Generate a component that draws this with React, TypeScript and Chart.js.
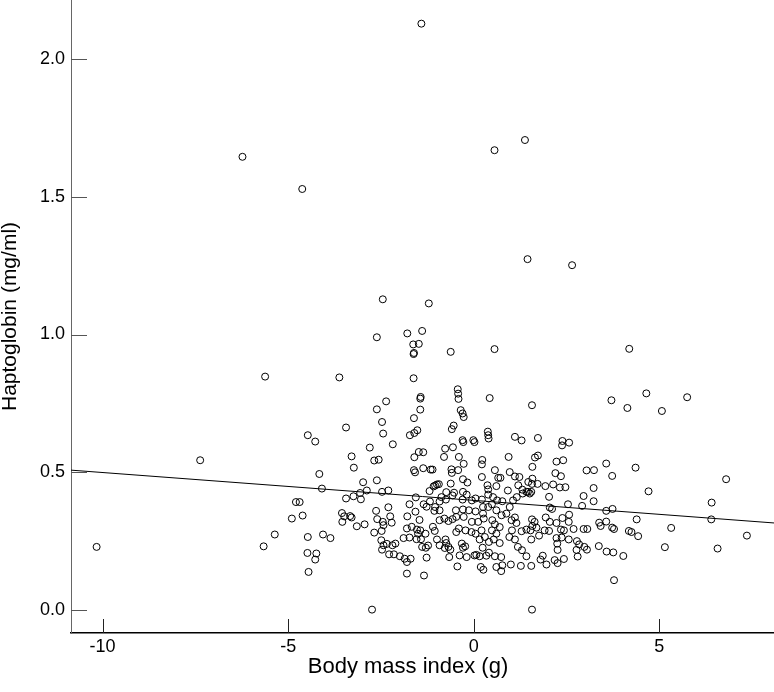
import React, { useEffect, useRef } from "react";
import { Chart, registerables } from "chart.js";

Chart.register(...registerables);

// Body mass index (g) values (x)
const bmiValues: number[] = [
  -1.41, -6.23, -4.62, -2.45, 1.38, 0.56, 1.45, 2.65, -1.21,
  -5.62, -4.47, -7.37, -4.79, -4.61, -4.90, -5.36, -5.66, -4.47, -4.48, -4.45, -10.16,
  -2.61, -1.79, -1.39, -1.63, -1.48, -1.61, -1.62, -0.62, 0.56, -3.62, -1.62, -0.43, -0.42, -0.41,
  -1.43, -1.44, 0.43, -2.36, -2.61, -1.44, -0.35, -0.30, -0.27, -1.61, -2.47, -3.44, -4.27, -0.54,
  -0.59, -1.72, -1.60, -1.52, -2.44, -2.18, -2.80, -0.30, -0.28, -0.01, 0.02, 0.38, 0.39, 0.40,
  1.11, 1.29, -0.77, -0.56, -3.29, -3.23, -4.16, -4.09, -1.48, -1.36, -1.60, -2.68, -2.56, -0.80,
  -0.40, -0.27, 0.23, 0.22, 0.94, -1.61, -1.58, -1.36, -1.16, -1.11, -0.60, -0.59, -0.42, -2.61,
  -2.98, 0.57, 0.97, 0.22, 0.66, 0.72, 1.23, -0.29, -0.17, -0.62, -1.04, -0.94, -0.74, -0.53,
  0.37, 0.39, 0.61, 1.11, 1.47, 1.57, 1.20, 1.31, 1.42, 1.51, 0.92, -3.44, -3.24, -3.06, -3.04,
  -2.88, -2.47, -2.30, -1.56, -1.19, -1.08, -0.99, -0.87, -0.75, -0.57, -0.29, -0.19, -0.30, -0.05,
  0.05, 0.22, 0.39, 0.52, 0.63, 0.77, 1.06, 1.16, 1.32, 1.46, -4.69, -3.55, -3.49, -3.54, -3.33,
  -3.29, -3.15, -2.94, -2.63, -2.60, -2.45, -2.30, -2.25, -2.21, -2.68, -2.48, -2.43, -1.73, -1.35,
  -1.27, -1.18, -1.04, -0.92, -1.79, -1.57, -1.46, -1.80, -1.67, -1.53, -1.44, -1.89, -1.73, -1.54,
  -1.42, -1.39, -1.29, -1.23, -2.49, -2.43, -2.47, -2.34, -2.19, -2.11, -2.28, -2.15, -1.99, -1.86,
  -1.80, -1.70, -1.27, -1.80, -1.34, -2.74, -4.06, -3.86, -4.27, -4.24, -0.79, -0.68, -0.57, -1.10,
  -1.05, -0.92, -0.76, -0.74, -0.68, -0.63, -0.78, -0.92, -0.99, -0.44, -0.48, -0.47, -0.29, -0.27,
  -0.47, -0.40, -0.22, -0.32, -0.29, -0.23, -0.38, -0.19, 0.02, -0.13, -0.05, 0.05, 0.12, 0.25,
  0.27, -0.06, 0.05, 0.21, 0.16, 0.30, 0.24, 0.07, 0.16, 0.34, 0.41, 0.19, 0.26, 0.39, 0.49, 0.61,
  0.50, 0.57, 0.49, 0.61, 0.41, 0.54, 0.70, 0.57, 0.74, 0.77, 0.74, 0.61, 0.88, 1.02, 1.11, 1.15,
  1.03, 1.29, 1.42, 1.19, 1.30, 1.42, 1.00, 1.27, 0.96, 1.11, -0.92, -1.06, -1.50, -1.30, -0.66,
  0.75, 0.70, 0.25, 0.97,
  4.19, 4.65, 5.75, 3.71, 4.14, 5.07, 1.57, 1.73, 2.39, 2.38, 2.57, 1.65, 1.73, 1.58, 2.23, 2.41,
  3.57, 4.36, 2.20, 2.35, 3.04, 3.24, 3.73, 6.80, 1.58, 1.55, 1.93, 2.14, 2.32, 2.47, 1.72, 4.71,
  2.96, 3.23, 2.03, 3.23, 6.41, 2.54, 2.92, 2.05, 2.11, 3.57, 3.74, 2.57, 1.94, 2.39, 1.57, 1.64,
  6.40, 4.39, 2.05, 2.23, 2.56, 3.38, 3.57, 3.42, 1.58, 1.69, 1.53, 1.91, 2.03, 2.35, 2.43, 2.69,
  2.96, 3.06, 3.73, 3.78, 5.32, 4.18, 4.25, 4.43, 7.36, 1.76, 1.55, 2.23, 2.56, 2.37, 2.25, 2.78,
  2.84, 2.98, 3.05, 3.37, 2.26, 2.77, 3.58, 3.76, 5.15, 6.57, 4.03, 1.86, 1.80, 1.96, 1.55, 2.18,
  2.26, 2.43, 2.80, 3.78, 1.57,
];

// Haptoglobin (mg/ml) values (y)
const haptoglobinValues: number[] = [
  2.13, 1.646, 1.529, 1.128, 1.707, 1.67, 1.274, 1.252, 1.113,
  0.847, 0.634, 0.543, 0.391, 0.342, 0.331, 0.273, 0.23, 0.264, 0.206, 0.137, 0.228,
  0.99, 1.004, 1.013, 0.964, 0.966, 0.933, 0.929, 0.937, 0.947, 0.844, 0.841, 0.801, 0.785, 0.766,
  0.773, 0.767, 0.769, 0.757, 0.728, 0.727, 0.725, 0.713, 0.7, 0.696, 0.682, 0.662, 0.611, 0.669,
  0.656, 0.634, 0.642, 0.652, 0.64, 0.601, 0.589, 0.616, 0.609, 0.616, 0.609, 0.647, 0.634, 0.622,
  0.628, 0.615, 0.585, 0.59, 0.557, 0.516, 0.493, 0.44, 0.573, 0.572, 0.554, 0.542, 0.545, 0.555,
  0.555, 0.53, 0.544, 0.528, 0.555, 0.507, 0.499, 0.514, 0.509, 0.509, 0.51, 0.497, 0.507, 0.47,
  0.463, 0.507, 0.5, 0.482, 0.479, 0.479, 0.482, 0.474, 0.462, 0.458, 0.451, 0.456, 0.427, 0.425,
  0.452, 0.437, 0.449, 0.484, 0.464, 0.457, 0.452, 0.436, 0.428, 0.422, 0.433, 0.404, 0.412, 0.424, 0.401,
  0.433, 0.428, 0.433, 0.408, 0.431, 0.448, 0.455, 0.409, 0.4, 0.415, 0.428, 0.418, 0.4, 0.397,
  0.404, 0.4, 0.418, 0.409, 0.397, 0.394, 0.397, 0.409, 0.422, 0.428, 0.391, 0.351, 0.339, 0.319, 0.34,
  0.335, 0.303, 0.31, 0.359, 0.329, 0.319, 0.372, 0.339, 0.316, 0.28, 0.286, 0.307, 0.383, 0.383,
  0.374, 0.393, 0.373, 0.393, 0.339, 0.356, 0.326, 0.295, 0.301, 0.291, 0.288, 0.26, 0.262, 0.256,
  0.256, 0.228, 0.225, 0.233, 0.252, 0.234, 0.218, 0.239, 0.234, 0.24, 0.201, 0.201, 0.194, 0.185,
  0.173, 0.185, 0.189, 0.131, 0.124, 0.0, 0.273, 0.26, 0.182, 0.204, 0.331, 0.322, 0.329, 0.301,
  0.286, 0.325, 0.255, 0.242, 0.228, 0.218, 0.224, 0.234, 0.255, 0.157, 0.361, 0.337, 0.364, 0.337,
  0.282, 0.295, 0.288, 0.24, 0.225, 0.23, 0.197, 0.191, 0.197, 0.361, 0.319, 0.357, 0.319, 0.349,
  0.331, 0.282, 0.276, 0.288, 0.255, 0.264, 0.225, 0.199, 0.194, 0.196, 0.207, 0.155, 0.145, 0.373, 0.383, 0.361,
  0.325, 0.31, 0.288, 0.276, 0.246, 0.255, 0.242, 0.194, 0.191, 0.161, 0.14, 0.155, 0.349, 0.325, 0.335, 0.315,
  0.288, 0.285, 0.291, 0.228, 0.216, 0.194, 0.164, 0.159, 0.264, 0.255, 0.361, 0.359, 0.276, 0.276, 0.191,
  0.343, 0.3, 0.373, 0.373,
  0.948, 0.786, 0.772, 0.761, 0.733, 0.722, 0.743, 0.624, 0.613, 0.597, 0.607, 0.553, 0.56, 0.519, 0.538, 0.543,
  0.531, 0.516, 0.496, 0.485, 0.506, 0.507, 0.486, 0.474, 0.476, 0.428, 0.449, 0.455, 0.444, 0.445, 0.457, 0.43,
  0.413, 0.442, 0.41, 0.394, 0.389, 0.383, 0.377, 0.371, 0.366, 0.359, 0.366, 0.345, 0.335, 0.333, 0.328, 0.319,
  0.328, 0.328, 0.319, 0.315, 0.319, 0.316, 0.32, 0.304, 0.304, 0.298, 0.288, 0.288, 0.286, 0.291, 0.288, 0.293,
  0.293, 0.293, 0.298, 0.293, 0.297, 0.286, 0.282, 0.267, 0.269, 0.269, 0.255, 0.26, 0.255, 0.262, 0.24, 0.249,
  0.237, 0.228, 0.218, 0.231, 0.217, 0.217, 0.211, 0.208, 0.227, 0.222, 0.195, 0.196, 0.182, 0.164, 0.159, 0.18,
  0.169, 0.184, 0.193, 0.107, 0.0,
];

// Linear fit line endpoints
const fitX: number[] = [-10.85, 8.09];
const fitY: number[] = [0.507, 0.315];

const xTicks: number[] = [-10, -5, 0, 5];
const yTicks: number[] = [0.0, 0.5, 1.0, 1.5, 2.0];

const xTitle = "Body mass index (g)";
const yTitle = "Haptoglobin (mg/ml)";

const FONT = "'Liberation Sans', Arial, sans-serif";

const tickMarksPlugin = {
  id: "tickMarks",
  afterDraw(chart: any) {
    const { ctx, chartArea, scales } = chart;
    ctx.save();
    ctx.lineWidth = 1;
    ctx.strokeStyle = "#555";
    ctx.beginPath();
    for (const v of yTicks) {
      const py = Math.round(scales.y.getPixelForValue(v)) + 0.5;
      ctx.moveTo(chartArea.left, py);
      ctx.lineTo(chartArea.left + 16, py);
    }
    ctx.stroke();
    ctx.strokeStyle = "#222";
    ctx.beginPath();
    for (const v of xTicks) {
      const px = Math.round(scales.x.getPixelForValue(v)) + 0.5;
      ctx.moveTo(px, chartArea.bottom);
      ctx.lineTo(px, chartArea.bottom - 14);
    }
    ctx.stroke();
    // x-axis title (offset to match the original figure's centring)
    ctx.fillStyle = "#000";
    ctx.font = `22px ${FONT}`;
    ctx.textAlign = "center";
    ctx.textBaseline = "middle";
    ctx.fillText(xTitle, 408, 667);
    ctx.restore();
  },
};

export default function App() {
  const canvasRef = useRef<HTMLCanvasElement | null>(null);

  useEffect(() => {
    document.body.style.margin = "0";
    const canvas = canvasRef.current;
    if (!canvas) return;
    const points = bmiValues.map((x, i) => ({ x, y: haptoglobinValues[i] }));
    const fit = fitX.map((x, i) => ({ x, y: fitY[i] }));
    const chart = new Chart(canvas, {
      type: "scatter",
      data: {
        datasets: [
          {
            type: "line",
            data: fit,
            borderColor: "#000",
            borderWidth: 1,
            pointRadius: 0,
            fill: false,
          } as any,
          {
            data: points,
            pointStyle: "circle",
            pointRadius: 3.5,
            pointBorderWidth: 1,
            borderColor: "#000",
            backgroundColor: "rgba(0,0,0,0)",
            pointBackgroundColor: "rgba(0,0,0,0)",
            pointBorderColor: "#000",
          } as any,
        ],
      },
      options: {
        animation: false,
        responsive: false,
        maintainAspectRatio: false,
        layout: { padding: 0, autoPadding: false },
        plugins: {
          legend: { display: false },
          tooltip: { enabled: false },
        },
        scales: {
          x: {
            type: "linear",
            position: "bottom",
            min: -10.85,
            max: 8.09,
            afterBuildTicks: (scale: any) => {
              scale.ticks = xTicks.map((v) => ({ value: v }));
            },
            afterFit: (scale: any) => {
              scale.height = 59;
              scale.paddingLeft = 0;
              scale.paddingRight = 0;
            },
            grid: { display: false, drawTicks: false },
            border: { display: true, color: "#000", width: 1.5 },
            ticks: {
              padding: 3,
              color: "#000",
              font: { family: FONT, size: 18 },
              callback: (v: any) => String(v),
            },
            title: { display: false },
          },
          y: {
            type: "linear",
            min: -0.085,
            max: 2.216,
            afterBuildTicks: (scale: any) => {
              scale.ticks = yTicks.map((v) => ({ value: v }));
            },
            afterFit: (scale: any) => {
              scale.width = 71;
              scale.paddingTop = 0;
              scale.paddingBottom = 0;
            },
            grid: { display: false, drawTicks: false },
            border: { display: true, color: "#666", width: 1 },
            ticks: {
              padding: 6,
              color: "#000",
              font: { family: FONT, size: 18 },
              callback: (v: any) => Number(v).toFixed(1),
            },
            title: {
              display: true,
              text: yTitle,
              color: "#000",
              font: { family: FONT, size: 21, lineHeight: 1 },
              padding: { top: 0, bottom: 0 },
            },
          },
        },
      },
      plugins: [tickMarksPlugin],
    });
    return () => chart.destroy();
  }, []);

  return (
    <div style={{ position: "absolute", left: 0, top: 0, width: 774, height: 692 }}>
      <canvas ref={canvasRef} width={774} height={692} style={{ width: 774, height: 692 }} />
    </div>
  );
}
